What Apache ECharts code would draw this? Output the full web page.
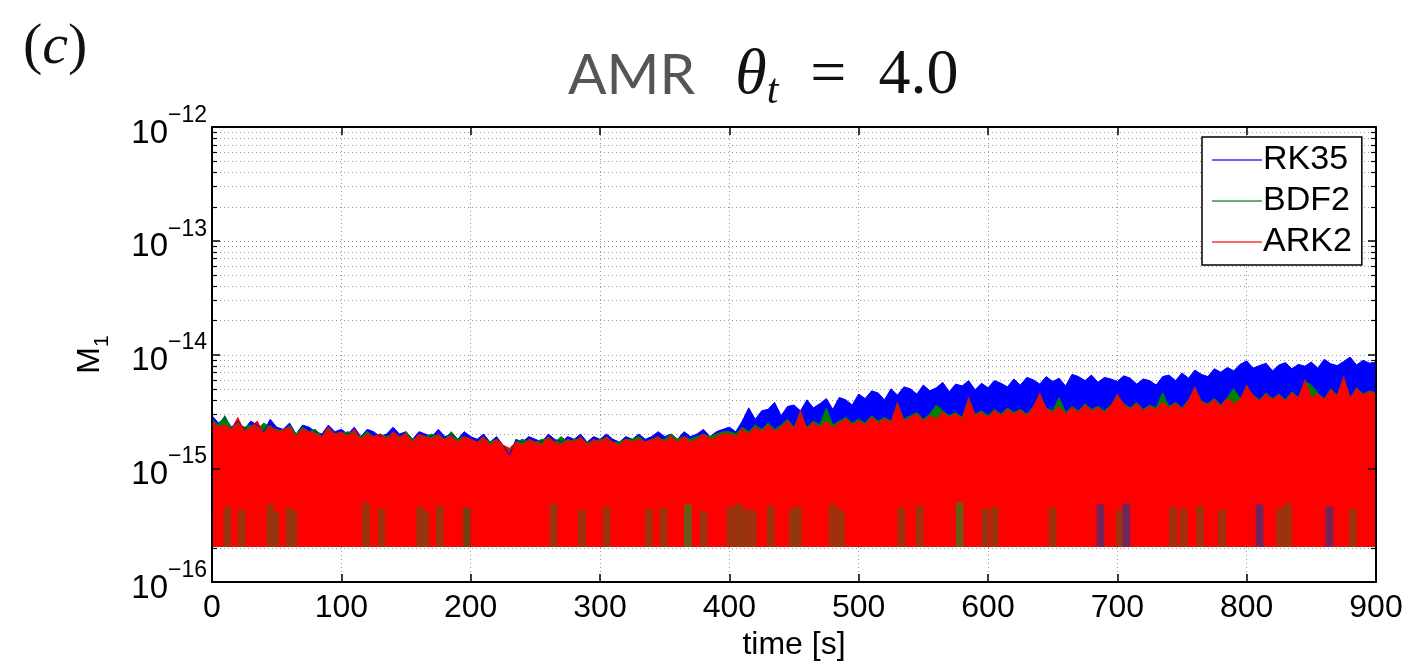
<!DOCTYPE html>
<html><head><meta charset="utf-8">
<script src="https://cdn.jsdelivr.net/npm/echarts@6/dist/echarts.min.js"></script>
<style>html,body{margin:0;padding:0;background:#fff}#c{width:1411px;height:666px}</style>
</head><body><div id="c"></div>
<script>
// ---- data ----
const times = [
  0,5,10,15,20,25,30,35,40,45,50,55,60,65,70,75,80,85,90,95,
  100,105,110,115,120,125,130,135,140,145,150,155,160,165,170,175,180,185,190,195,
  200,205,210,215,220,225,230,235,240,245,250,255,260,265,270,275,280,285,290,295,
  300,305,310,315,320,325,330,335,340,345,350,355,360,365,370,375,380,385,390,395,
  400,405,410,415,420,425,430,435,440,445,450,455,460,465,470,475,480,485,490,495,
  500,505,510,515,520,525,530,535,540,545,550,555,560,565,570,575,580,585,590,595,
  600,605,610,615,620,625,630,635,640,645,650,655,660,665,670,675,680,685,690,695,
  700,705,710,715,720,725,730,735,740,745,750,755,760,765,770,775,780,785,790,795,
  800,805,810,815,820,825,830,835,840,845,850,855,860,865,870,875,880,885,890,895,
  900
];
// envelope values in units of 1e-15
const rk35 = [
  2.9,2.5,2.8,2.3,2.6,2.2,2.6,2.4,2.1,2.7,2.3,2.2,2.5,2.0,2.4,2.3,2.1,2.0,2.4,2.1,
  2.2,2.0,2.3,1.9,2.2,2.1,1.9,2.0,2.3,2.0,2.1,1.8,2.1,2.0,1.9,2.2,1.9,2.0,1.8,2.1,
  1.9,1.8,2.0,1.7,1.9,1.6,1.3,1.8,1.7,1.9,1.8,1.7,2.0,1.8,1.7,1.9,1.8,2.0,1.7,1.9,
  1.8,2.0,1.8,1.7,1.9,1.8,2.0,1.8,1.9,2.1,1.9,2.0,1.8,2.1,1.9,2.0,2.2,1.9,2.1,2.2,
  2.3,2.1,2.6,3.4,2.7,3.2,3.3,3.8,2.9,3.5,3.6,3.2,4.0,3.4,3.7,4.1,3.3,4.2,4.0,3.6,
  4.5,4.1,4.8,4.6,4.0,5.0,4.4,5.2,5.0,4.5,5.4,4.8,5.1,5.7,4.7,5.5,5.3,5.9,4.9,5.6,
  5.1,5.9,5.6,5.2,6.1,5.4,6.3,6.0,5.5,6.4,5.8,6.2,5.3,6.7,6.4,5.9,6.6,5.7,6.3,6.1,
  5.8,6.5,6.2,5.5,6.1,5.9,5.4,6.4,6.6,5.9,6.9,6.2,7.3,6.7,6.4,7.5,7.0,7.7,7.2,8.2,
  8.8,7.6,8.0,8.4,7.2,8.1,8.5,7.5,8.2,7.9,8.6,7.6,9.1,8.3,8.0,8.7,9.5,8.1,8.9,8.4,
  8.6
];
const bdf2 = [
  2.7,2.4,2.9,2.2,2.5,2.3,2.4,2.2,2.5,2.3,2.2,2.1,2.4,2.0,2.3,2.1,2.2,1.9,2.2,2.0,
  2.0,2.1,2.0,1.9,2.1,1.9,2.0,1.9,2.0,1.8,2.1,1.8,1.9,1.9,2.0,1.9,1.8,2.1,1.8,1.9,
  1.8,1.7,1.8,1.7,1.8,1.6,1.4,1.7,1.8,1.7,1.7,1.8,1.8,1.7,1.9,1.7,1.8,1.8,1.7,1.7,
  1.8,1.8,1.7,1.7,1.8,1.8,1.9,1.7,1.8,1.8,1.8,2.0,1.8,1.9,1.8,1.9,2.0,1.9,2.0,2.1,
  2.1,2.0,2.3,2.1,2.4,2.2,2.5,2.2,2.4,2.7,2.3,3.0,2.3,2.6,2.4,3.4,2.4,2.6,2.8,2.5,
  2.7,2.5,2.9,2.6,2.8,2.6,3.6,2.7,2.9,3.1,2.7,3.0,3.6,3.2,2.9,3.1,2.8,4.0,3.0,3.2,
  2.9,3.3,3.0,3.4,3.1,3.3,3.0,3.5,4.4,3.4,3.2,4.2,3.1,3.5,3.2,3.7,3.3,3.5,3.2,3.6,
  4.3,3.7,3.4,3.8,3.3,3.6,3.4,4.6,3.5,3.8,3.4,4.0,5.0,3.9,3.7,4.1,3.6,4.2,5.0,4.1,
  5.2,4.4,4.0,4.6,4.1,4.5,4.0,4.7,4.2,5.8,5.4,4.6,4.1,5.0,4.4,6.2,4.2,5.1,4.5,4.8,
  4.6
];
const ark2 = [
  2.6,2.3,2.4,2.2,2.8,2.1,2.3,2.6,2.0,2.4,2.1,2.2,2.3,1.9,2.2,2.1,2.0,1.9,2.3,2.0,
  2.1,1.9,2.2,1.8,2.0,1.9,2.0,1.8,2.1,1.9,2.0,1.7,2.0,1.9,1.8,2.0,1.8,1.9,1.7,1.9,
  1.8,1.7,1.9,1.6,1.8,1.6,1.5,1.7,1.6,1.8,1.7,1.6,1.9,1.7,1.6,1.8,1.7,1.9,1.6,1.8,
  1.7,1.9,1.7,1.6,1.8,1.7,1.8,1.7,1.8,1.9,1.7,1.9,1.7,1.9,1.7,1.8,2.0,1.8,1.9,2.0,
  2.0,1.9,2.2,2.0,2.3,2.1,2.4,2.1,2.3,2.6,2.2,3.2,2.2,2.5,2.3,2.6,2.3,2.5,2.7,2.4,
  2.6,2.4,2.8,2.5,2.7,2.5,3.8,2.6,2.8,3.0,2.6,2.9,2.7,3.1,2.8,3.0,2.7,4.2,2.9,3.1,
  2.8,3.2,2.9,3.3,3.0,3.2,2.9,3.4,4.6,3.3,3.1,3.5,3.0,3.4,3.1,3.6,3.2,3.4,3.1,3.5,
  4.5,3.6,3.3,3.7,3.2,3.5,3.3,3.8,3.4,3.7,3.3,3.9,5.2,3.8,3.6,4.0,3.5,4.1,3.7,4.0,
  5.4,4.3,3.9,4.5,4.0,4.4,3.9,4.6,4.1,6.0,4.2,4.5,4.0,4.9,4.3,6.4,4.1,5.0,4.4,4.7,
  4.5
];
const seriesNames = ['RK35', 'BDF2', 'ARK2'];
const seriesColors = ['#0000ff', '#008000', '#ff0000'];
const FLOOR = 2.05e-16;           // lower bound of the plotted values
const xTickStep = 100;
const yMajorExp = [-16, -15, -14, -13, -12];
const yMinorMantissa = [2, 3, 4, 5, 6, 7, 8, 9];
// dark streaks near the floor (time in s, top in units of 1e-16, which series shows through)
const streakTimes = [12,23,45,49,60,63,119,131,161,165,176,197,264,286,305,338,349,368,380,401,407,412,418,432,449,453,480,486,533,547,578,598,605,650,687,702,707,743,751,764,781,810,826,832,864,882];
const streakTops  = [4.6,4.3,4.8,4.1,4.5,4.2,5.0,4.4,4.6,4.2,4.7,4.5,4.9,4.3,4.6,4.4,4.5,4.8,4.2,4.6,4.9,4.4,4.3,4.7,4.4,4.6,4.8,4.3,4.5,4.7,5.0,4.4,4.6,4.5,4.8,4.3,4.9,4.6,4.4,4.7,4.3,4.8,4.5,4.9,4.6,4.4];
const streakKinds = ['g','g','g','g','g','g','g','g','g','g','g','k','g','g','g','g','g','G','g','g','g','g','g','g','g','g','g','g','g','g','G','g','g','g','b','g','b','g','g','g','g','b','g','g','b','g'];

// ---- styling ----
const SANS = '"Liberation Sans", Arial, Helvetica, sans-serif';
const SERIF = '"Liberation Serif", "DejaVu Serif", serif';
const GRID_COLOR = '#9a9a9a';
const STREAK_HALF = 3;
const kindColors = { g: '#8a3c12', G: '#4f6a1c', k: '#5a4a14', b: '#5a2a6a' };

const toPairs = arr => times.map((t, i) => [t, arr[i] * 1e-15]);
const hGrid = [];
yMajorExp.slice(0, -1).forEach((e, k) => {
  if (k > 0) hGrid.push([0, Math.pow(10, e), 1]);
  yMinorMantissa.forEach(m => hGrid.push([0, m * Math.pow(10, e), 0]));
});

const chart = echarts.init(document.getElementById('c'), null, { renderer: 'canvas' });

const yLabelFmt = v => {
  const e = Math.round(Math.log10(v));
  return '{b|10}{s|\u2212' + Math.abs(e) + '}';
};

const lineSeries = seriesNames.map((name, si) => ({
  type: 'line',
  name,
  data: toPairs([rk35, bdf2, ark2][si]),
  showSymbol: false,
  symbol: 'none',
  silent: true,
  z: 2,
  lineStyle: { width: 1, color: seriesColors[si] },
  itemStyle: { color: seriesColors[si] },
  areaStyle: { color: seriesColors[si], opacity: 1, origin: FLOOR }
}));

const option = {
  animation: false,
  backgroundColor: '#fff',
  title: [
    {
      text: '{p|(}{c|c}{p|)}',
      left: 18, top: 8,
      textStyle: { fontWeight: 'normal', rich: {
        p: { fontFamily: SERIF, fontSize: 58, fontWeight: 'normal', color: '#111', lineHeight: 70 },
        c: { fontFamily: SERIF, fontSize: 58, fontWeight: 'normal', fontStyle: 'italic', color: '#111', lineHeight: 70 }
      } }
    },
    {
      text: '{a|AMR}{sp| }{m|\u03b8}{t|t}{r|\u2002=\u20024.0}',
      left: 563, top: 36,
      textStyle: { fontWeight: 'normal', rich: {
        a: { fontFamily: 'Lato, "Open Sans", sans-serif', fontSize: 57, fontWeight: 'normal', color: '#555', lineHeight: 70 },
        sp: { fontSize: 57, lineHeight: 70, width: 40 },
        m: { fontFamily: SERIF, fontSize: 64, fontWeight: 'normal', fontStyle: 'italic', color: '#111', lineHeight: 70 },
        t: { fontFamily: SERIF, fontSize: 42, fontWeight: 'normal', fontStyle: 'italic', color: '#111', lineHeight: 42, verticalAlign: 'top', padding: [30, 0, 0, 0] },
        r: { fontFamily: SERIF, fontSize: 64, fontWeight: 'normal', color: '#111', lineHeight: 70 }
      } }
    }
  ],
  legend: {
    data: seriesNames,
    orient: 'vertical',
    left: 1202, top: 137,
    icon: 'rect',
    itemWidth: 50, itemHeight: 2, itemGap: 7,
    padding: [6, 10, 6, 10],
    backgroundColor: '#fff',
    borderColor: '#000', borderWidth: 1.5, borderRadius: 0,
    itemStyle: { opacity: 0.6 },
    textStyle: { fontFamily: SANS, fontSize: 34, color: '#000', padding: [0, 0, 0, -4] },
    z: 30
  },
  grid: { left: 212, right: 35, top: 127, bottom: 81, containLabel: false },
  xAxis: [
    {
      type: 'value', min: 0, max: 900, interval: xTickStep, position: 'bottom', z: 0,
      name: 'time [s]', nameLocation: 'middle', nameGap: 37,
      nameTextStyle: { fontFamily: SANS, fontSize: 32, color: '#000' },
      axisLine: { show: false },
      axisTick: { show: false },
      axisLabel: { fontFamily: SANS, fontSize: 32, color: '#000', margin: 10 },
      splitLine: { show: true, lineStyle: { color: GRID_COLOR, type: [1, 3], width: 1 } }
    },
    {
      type: 'value', min: 0, max: 900, interval: xTickStep, position: 'bottom', z: 10,
      axisLine: { show: true, onZero: false, lineStyle: { color: '#000', width: 2 } },
      axisTick: { show: true, inside: true, length: 8, lineStyle: { color: '#000', width: 1.5 } },
      axisLabel: { show: false }, splitLine: { show: false }
    },
    {
      type: 'value', min: 0, max: 900, interval: xTickStep, position: 'top', z: 10,
      axisLine: { show: true, onZero: false, lineStyle: { color: '#000', width: 2 } },
      axisTick: { show: true, inside: true, length: 8, lineStyle: { color: '#000', width: 1.5 } },
      axisLabel: { show: false }, splitLine: { show: false }
    }
  ],
  yAxis: [
    {
      type: 'log', logBase: 10, min: 1e-16, max: 1e-12, position: 'left', z: 10,
      name: '{m|M}{s|1}', nameLocation: 'middle', nameRotate: 90, nameGap: 106,
      nameTextStyle: { rich: {
        m: { fontFamily: SANS, fontSize: 32, color: '#000', lineHeight: 32, verticalAlign: 'top' },
        s: { fontFamily: SANS, fontSize: 21, color: '#000', lineHeight: 21, verticalAlign: 'top', padding: [18, 0, 0, 0] }
      } },
      axisLine: { show: true, onZero: false, lineStyle: { color: '#000', width: 2 } },
      axisTick: { show: true, inside: true, length: 8, lineStyle: { color: '#000', width: 1.5 } },
      axisLabel: {
        margin: 5, formatter: yLabelFmt,
        rich: {
          b: { fontFamily: SANS, fontSize: 33, color: '#000', lineHeight: 46, verticalAlign: 'bottom' },
          s: { fontFamily: SANS, fontSize: 23, color: '#000', lineHeight: 23, verticalAlign: 'top' }
        }
      },
      splitLine: { show: false }
    },
    {
      type: 'log', logBase: 10, min: 1e-16, max: 1e-12, position: 'right', z: 10,
      axisLine: { show: true, onZero: false, lineStyle: { color: '#000', width: 2 } },
      axisTick: { show: true, inside: true, length: 8, lineStyle: { color: '#000', width: 1.5 } },
      axisLabel: { show: false }, splitLine: { show: false }
    }
  ],
  series: [
    {
      type: 'custom', name: 'hgrid', silent: true, z: 1,
      xAxisIndex: 0, yAxisIndex: 0,
      data: hGrid,
      renderItem(params, api) {
        const cs = params.coordSys;
        const y = Math.round(api.coord([0, api.value(1)])[1]) + 0.5;
        const children = [
          { type: 'line', shape: { x1: cs.x, y1: y, x2: cs.x + cs.width, y2: y },
            style: { stroke: GRID_COLOR, lineWidth: 1, lineDash: [1, 3] } }
        ];
        if (!api.value(2)) {
          children.push({ type: 'line', shape: { x1: cs.x, y1: y, x2: cs.x + 5, y2: y }, style: { stroke: '#000', lineWidth: 1.2 } });
          children.push({ type: 'line', shape: { x1: cs.x + cs.width - 5, y1: y, x2: cs.x + cs.width, y2: y }, style: { stroke: '#000', lineWidth: 1.2 } });
        }
        return { type: 'group', children };
      }
    },
    ...lineSeries,
    {
      type: 'custom', name: 'streaks', silent: true, z: 3,
      xAxisIndex: 0, yAxisIndex: 0,
      data: streakTimes.map((t, i) => [t, streakTops[i] * 1e-16, i]),
      renderItem(params, api) {
        const i = api.value(2);
        const p0 = api.coord([api.value(0) - STREAK_HALF, FLOOR]);
        const p1 = api.coord([api.value(0) + STREAK_HALF, api.value(1)]);
        return { type: 'rect', shape: { x: p0[0], y: p1[1], width: p1[0] - p0[0], height: p0[1] - p1[1] },
                 style: { fill: kindColors[streakKinds[i]], opacity: 0.85 } };
      }
    }
  ]
};
chart.setOption(option);
</script>
</body></html>
